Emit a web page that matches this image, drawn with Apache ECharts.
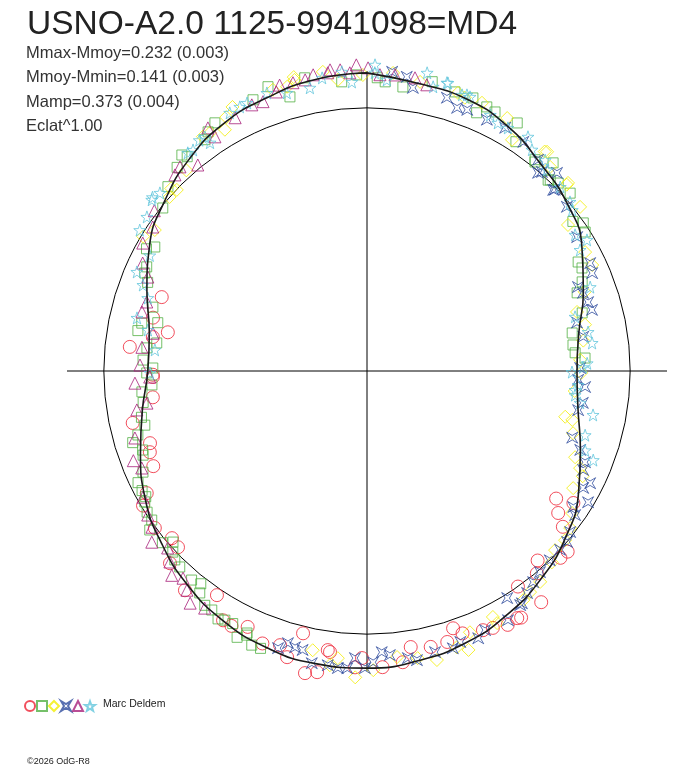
<!DOCTYPE html>
<html>
<head>
<meta charset="utf-8">
<style>
  html, body { margin: 0; padding: 0; background: #fff; }
  #main { width: 688px; height: 768px; }
</style>
<script src="https://cdn.jsdelivr.net/npm/echarts@6.0.0/dist/echarts.min.js"></script>
</head>
<body>
<div id="main"></div>
<script>
// star name and fit results
var starName = 'USNO-A2.0 1125-9941098=MD4';
var statLines = ['Mmax-Mmoy=0.232 (0.003)', 'Mmoy-Mmin=0.141 (0.003)', 'Mamp=0.373 (0.004)', 'Eclat^1.00'];
var author = 'Marc Deldem';
var copyright = '\u00a92026 OdG-R8';

// phase in degrees (0 = top, clockwise), relative flux (1.0 = mean)
var meanCurve = [
  [0, 1.133], [10, 1.110], [20, 1.101], [30, 1.072], [40, 1.027], [50, 0.992],
  [60, 0.943], [70, 0.875], [80, 0.817], [90, 0.798], [100, 0.814], [110, 0.863],
  [120, 0.928], [130, 0.985], [140, 1.030], [150, 1.068], [160, 1.099], [170, 1.118],
  [180, 1.129], [190, 1.129], [200, 1.118], [210, 1.095], [220, 1.061], [230, 1.019],
  [240, 0.973], [250, 0.916], [260, 0.867], [270, 0.833], [280, 0.840], [290, 0.890],
  [300, 0.954], [310, 1.004], [320, 1.051], [330, 1.087], [340, 1.106], [350, 1.125],
  [360, 1.133]
];

var night1 = [
  [124, 0.867], [126.6, 0.905], [128.5, 0.951], [122.6, 0.931], [132, 1.026], [134, 1.022],
  [138, 0.969], [143, 1.100], [140, 1.004], [148, 1.105], [145, 1.000], [148.7, 1.099],
  [151, 1.103], [161.5, 1.031], [160, 1.061], [163.5, 1.074], [167, 1.076], [171, 1.062],
  [177, 1.127], [181, 1.091], [182.3, 1.127], [187.5, 1.077], [193.7, 1.026], [191.6, 1.172],
  [189.4, 1.160], [195.6, 1.129], [197.6, 1.093], [201, 1.109], [205, 1.073], [188, 1.071],
  [173, 1.115], [155.9, 1.079], [153.9, 1.087], [263, 0.820], [257.5, 0.912], [251.6, 0.869],
  [249.5, 0.881], [246, 0.889], [241, 0.957], [239, 0.993], [233.5, 1.003], [229.4, 0.976],
  [227, 0.982], [225.7, 1.046], [219.7, 1.083], [213.8, 1.025], [210, 1.094], [208, 1.097],
  [289.8, 0.829], [281, 0.771], [275.8, 0.906], [269, 0.814], [284, 0.838], [279, 0.824],
  [268.4, 0.814]
];

var night2 = [
  [204.5, 1.103], [202.8, 1.130], [201, 1.129], [206, 1.126], [204.6, 1.095], [208, 1.087],
  [209.7, 1.090], [211, 1.099], [213, 1.083], [214.7, 1.083], [217, 1.056], [218, 1.026],
  [220, 1.037], [223.7, 1.030], [225.5, 1.024], [227, 1.009], [228.6, 0.983], [230, 1.015],
  [235.3, 0.995], [233.8, 1.023], [237.3, 0.993], [239.5, 0.980], [240.4, 0.967], [242, 0.968],
  [244, 0.968], [245.7, 0.934], [249.4, 0.909], [250.6, 0.904], [253, 0.931], [254.4, 0.904],
  [256.3, 0.869], [258.4, 0.875], [262, 0.859], [264.7, 0.859], [266.3, 0.819], [269.5, 0.837],
  [270.8, 0.814], [272.8, 0.852], [276, 0.841], [277.6, 0.806], [283, 0.816], [282, 0.875],
  [280, 0.884], [286.6, 0.849], [292, 0.899], [293.8, 0.923], [295.3, 0.926], [300.3, 0.934],
  [299, 0.958], [308.6, 0.993], [312.8, 1.031], [320, 1.063], [317, 1.058], [340.8, 1.144],
  [344.3, 1.082], [337.2, 1.118], [328.5, 1.106], [326.4, 1.091], [325, 1.073], [319.4, 1.081],
  [348, 1.139], [355, 1.103], [358, 1.126], [2, 1.115], [3.6, 1.101], [7.2, 1.088],
  [12.7, 1.127], [17.5, 1.112], [23, 1.066], [21.2, 1.113], [24.4, 1.102], [26.3, 1.098],
  [31.2, 1.102], [33, 1.039], [38.5, 1.026], [41.8, 1.061], [43.5, 1.000], [45.5, 1.019],
  [48.8, 1.026], [38.8, 1.019], [43.8, 1.006], [54, 0.967], [55.6, 0.996], [57.5, 0.983],
  [62.7, 0.903], [64.4, 0.906], [67.5, 0.885], [69.6, 0.852], [74.9, 0.847], [79.5, 0.793],
  [82.8, 0.789], [85, 0.794], [86.6, 0.830]
];

var night3 = [
  [331, 1.103], [329.5, 1.064], [325, 1.087], [333, 1.126], [341.5, 1.127], [346, 1.151],
  [318, 1.026], [326.6, 1.084], [313, 1.017], [311.4, 1.000], [303.6, 0.968], [301, 0.992],
  [313.6, 0.998], [344.3, 1.122], [346, 1.140], [351.6, 1.149], [354.3, 1.112], [359.2, 1.125],
  [5, 1.137], [10.4, 1.117], [18.1, 1.112], [19.7, 1.103], [23.2, 1.109], [29, 1.099],
  [32.1, 1.037], [39.4, 1.078], [41.9, 1.042], [47, 1.038], [52.4, 1.022], [39, 1.073],
  [46.9, 1.046], [54, 0.944], [64.8, 0.946], [61.4, 0.944], [70, 0.880], [74.3, 0.829],
  [78, 0.847], [82, 0.830], [87, 0.811], [90.5, 0.814], [95.5, 0.793], [103.4, 0.802],
  [106.8, 0.818], [112.5, 0.856], [114.5, 0.890], [116, 0.912], [119.6, 0.901], [124.7, 0.948],
  [127.7, 0.976], [130.5, 0.990], [133.6, 0.987], [136, 1.011], [140.6, 1.037], [143.6, 1.044],
  [145.7, 1.054], [103, 0.773], [152.9, 1.050], [152.7, 1.078], [158.5, 1.067], [160, 1.128],
  [162, 1.104], [166.4, 1.130], [170, 1.108], [174, 1.093], [178.8, 1.137], [182.2, 1.165],
  [185.8, 1.097], [187.2, 1.127], [191, 1.081]
];

var night4 = [
  [4.8, 1.141], [9.2, 1.090], [7.7, 1.128], [16.3, 1.082], [18.9, 1.057], [21, 1.063],
  [25.5, 1.058], [29.6, 1.063], [34.3, 1.054], [39, 1.033], [41.3, 1.007], [45.8, 0.987],
  [43.8, 1.043], [40.8, 0.995], [46, 0.992], [50.6, 0.983], [57.5, 0.947], [64.2, 0.942],
  [66.5, 0.933], [68.3, 0.863], [70.1, 0.873], [74.8, 0.886], [72.7, 0.880], [77, 0.819],
  [81, 0.832], [89.2, 0.810], [94.2, 0.831], [92.4, 0.803], [98.4, 0.829], [100.5, 0.816],
  [108, 0.820], [110.3, 0.864], [112.7, 0.898], [114.6, 0.903], [116.7, 0.949], [118.4, 0.934],
  [120.7, 0.977], [123.4, 0.939], [124.7, 0.962], [128.4, 0.985], [130.5, 1.000], [132.8, 1.000],
  [136, 1.000], [139.3, 1.008], [141.8, 1.021], [144.2, 1.040], [146.3, 1.061], [148.3, 1.014],
  [146.8, 1.063], [150.5, 1.088], [155.5, 1.082], [157.4, 1.100], [161, 1.089], [162.8, 1.103],
  [166.4, 1.099], [170.2, 1.115], [171.9, 1.102], [175.4, 1.083], [177, 1.070], [178.8, 1.107],
  [180.4, 1.129], [182.4, 1.092], [183.8, 1.132], [185.6, 1.134], [187.6, 1.128], [190.7, 1.130],
  [193, 1.088], [194.6, 1.085], [196.2, 1.077], [197.8, 1.106]
];

var night5 = [
  [267, 0.883], [268.4, 0.826], [261.7, 0.845], [260.4, 0.887], [253.9, 0.918], [249, 0.951],
  [246.7, 0.932], [240.6, 0.977], [236.7, 0.997], [234, 1.010], [231.5, 1.045], [228.4, 1.013],
  [225.9, 1.043], [223.7, 1.074], [221.6, 1.053], [219.4, 1.078], [217.3, 1.109], [214.4, 1.092],
  [320.6, 1.013], [315.6, 1.043], [307, 1.012], [303.9, 0.981], [299.7, 0.981], [295.7, 0.946],
  [293.2, 0.906], [284.7, 0.884], [276, 0.860], [271.5, 0.863], [287.4, 0.877], [280, 0.826],
  [317.5, 1.052], [326.8, 1.104], [327, 1.061], [332.5, 1.085], [336.6, 1.102], [338.9, 1.097],
  [342, 1.115], [343, 1.136], [345.6, 1.131], [348, 1.131], [354.9, 1.149], [356.7, 1.135],
  [0.2, 1.152], [2.5, 1.127], [5.4, 1.130], [9.3, 1.129], [11.8, 1.111], [352.5, 1.143],
  [349.7, 1.144], [358, 1.164], [353, 1.153]
];

var night6 = [
  [301.8, 1.016], [308.5, 1.045], [310.7, 1.038], [320.6, 1.073], [325.3, 1.082], [293.3, 0.952],
  [291, 0.912], [283, 0.897], [275.7, 0.810], [280.6, 0.847], [298, 0.935], [305, 1.021],
  [269.5, 0.825], [288.4, 0.878], [309, 1.049], [324, 1.084], [325.5, 1.053], [332, 1.111],
  [334.3, 1.114], [335.9, 1.116], [340.2, 1.123], [343.9, 1.100], [321.8, 1.069], [348.6, 1.098],
  [351.3, 1.127], [355.2, 1.141], [357, 1.100], [1.5, 1.164], [1.5, 1.134], [3.9, 1.109],
  [11.4, 1.156], [13.1, 1.109], [15.5, 1.137], [19, 1.110], [20.6, 1.113], [15.7, 1.137],
  [19.9, 1.116], [25.7, 1.080], [27.8, 1.066], [30.1, 1.068], [34.5, 1.080], [36.7, 1.049],
  [41.8, 1.026], [46.4, 1.014], [50.2, 1.004], [40.2, 1.049], [51.9, 0.991], [56.8, 0.945],
  [59.2, 0.973], [60.4, 0.931], [69.4, 0.906], [75.4, 0.817], [80, 0.853], [89, 0.821],
  [90.3, 0.779], [95.2, 0.794], [88, 0.837], [82.9, 0.862], [93.8, 0.804], [96.6, 0.796],
  [98.5, 0.819], [101, 0.875], [106.4, 0.864], [110, 0.882], [111.5, 0.924]
];

var nights = [
  { name: 'N1', data: night1, symbol: 'circle', size: 13, color: '#ee2233' },
  { name: 'N2', data: night2, symbol: 'rect', size: 10, color: '#52b044' },
  { name: 'N3', data: night3, symbol: 'diamond', size: 13, color: '#f2ee00' },
  { name: 'N4', data: night4, symbol: 'path://M0,0 L10,6 L20,0 L14,10 L20,20 L10,14 L0,20 L6,10 Z', size: 11, color: '#2f4c9e' },
  { name: 'N5', data: night5, symbol: 'triangle', size: 12, color: '#a8207a' },
  { name: 'N6', data: night6, symbol: 'path://M10,0 L12.35,6.76 L19.51,6.91 L13.8,11.24 L15.88,18.09 L10,14 L4.12,18.09 L6.2,11.24 L0.49,6.91 L7.65,6.76 Z', size: 12, color: '#62c6dc' }
];

// polar wants [radius, angle]
function toPolar(arr) {
  return arr.map(function (p) { return [p[1], p[0]]; });
}

var chart = echarts.init(document.getElementById('main'));

var series = nights.map(function (n) {
  return {
    name: n.name,
    type: 'scatter',
    coordinateSystem: 'polar',
    clip: false,
    symbol: n.symbol,
    symbolSize: n.size,
    itemStyle: { color: 'rgba(0,0,0,0)', borderColor: n.color, borderWidth: 1 },
    data: toPolar(n.data),
    z: 2
  };
});
series.push({
  name: 'moyenne',
  type: 'line',
  coordinateSystem: 'polar',
  clip: false,
  smooth: true,
  showSymbol: false,
  lineStyle: { color: '#1a1a1a', width: 1.6 },
  data: toPolar(meanCurve),
  z: 5
});

var option = {
  animation: false,
  backgroundColor: '#ffffff',
  textStyle: { fontFamily: 'Liberation Sans' },
  title: [
    {
      text: starName, left: 22, top: 3,
      textStyle: { fontSize: 33.5, fontWeight: 'normal', color: '#222', fontFamily: 'Liberation Sans' }
    },
    {
      text: statLines.join('\n'), left: 21, top: 36,
      textStyle: { fontSize: 16.5, lineHeight: 24.5, fontWeight: 'normal', color: '#333', fontFamily: 'Liberation Sans' }
    },
    {
      text: author, left: 98, top: 694,
      textStyle: { fontSize: 10.5, fontWeight: 'normal', color: '#222', fontFamily: 'Liberation Sans' }
    },
    {
      text: copyright, left: 22, top: 752,
      textStyle: { fontSize: 9, fontWeight: 'normal', color: '#222', fontFamily: 'Liberation Sans' }
    }
  ],
  legend: {
    left: 19, top: 695,
    itemWidth: 10, itemHeight: 10, itemGap: 0,
    selectedMode: false,
    formatter: function () { return ''; },
    data: nights.map(function (n) { return n.name; })
  },
  polar: { center: [367, 371], radius: 300 },
  angleAxis: {
    type: 'value', min: 0, max: 360, interval: 90,
    startAngle: 90, clockwise: true,
    axisLine: { show: false }, axisTick: { show: false }, axisLabel: { show: false },
    splitLine: { show: true, lineStyle: { color: '#000', width: 1 } }
  },
  radiusAxis: {
    type: 'value', min: 0, max: 1.14, interval: 1,
    axisLine: { show: false }, axisTick: { show: false }, axisLabel: { show: false },
    splitLine: { show: true, lineStyle: { color: ['#000', '#000', 'rgba(0,0,0,0)'], width: 1 } }
  },
  series: series
};

chart.setOption(option);
</script>
</body>
</html>
